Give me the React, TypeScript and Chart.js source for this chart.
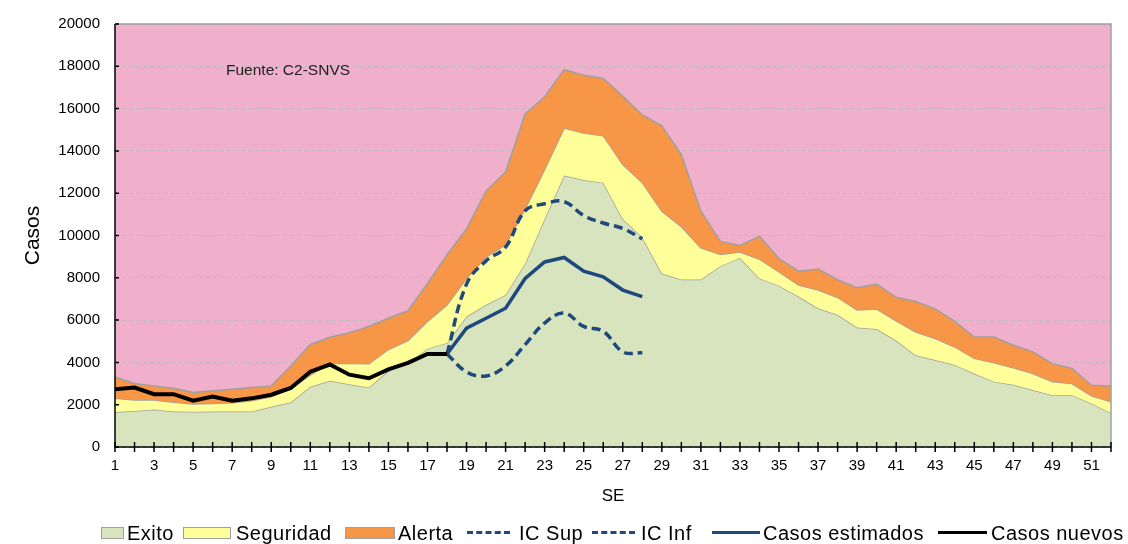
import React, { useEffect, useRef } from 'react';
import { Chart, registerables } from 'chart.js';

Chart.register(...registerables);

const weeks = ['1','2','3','4','5','6','7','8','9','10','11','12','13','14','15','16','17','18','19','20','21','22','23','24','25','26','27','28','29','30','31','32','33','34','35','36','37','38','39','40','41','42','43','44','45','46','47','48','49','50','51','52'];

// cumulative upper limits of the zones
const exito = [1650,1700,1770,1680,1670,1680,1680,1680,1900,2110,2850,3130,2970,2810,3600,3950,4650,4920,6170,6720,7190,8670,10780,12840,12620,12500,10780,9920,8200,7920,7920,8550,8940,7970,7630,7110,6560,6250,5650,5580,5030,4340,4110,3880,3470,3090,2940,2690,2450,2450,2060,1610];
const seguridad = [2310,2220,2220,2110,2030,2060,2090,2190,2380,2750,3400,3950,3950,3940,4610,5030,5940,6720,7970,8980,9560,11250,13130,15080,14840,14720,13360,12500,11150,10420,9420,9100,9220,8880,8280,7660,7420,7070,6480,6520,5970,5440,5130,4730,4190,3980,3750,3470,3080,3000,2420,2140];
const alerta = [3310,3000,2890,2780,2580,2660,2730,2810,2890,3830,4850,5190,5400,5700,6090,6440,7730,9090,10310,12110,13000,15750,16560,17840,17580,17420,16590,15700,15190,13830,11150,9720,9530,9970,8910,8310,8410,7910,7530,7700,7080,6880,6530,5940,5200,5200,4810,4500,3940,3720,2920,2890];

const casosNuevos = [2730,2810,2500,2500,2190,2390,2190,2300,2470,2790,3560,3900,3420,3250,3670,3980,4400,4400];
const casosEstimados = [null,null,null,null,null,null,null,null,null,null,null,null,null,null,null,null,null,4400,5620,6090,6560,7970,8750,8960,8310,8050,7420,7110];
const icSup = [null,null,null,null,null,null,null,null,null,null,null,null,null,null,null,null,null,4400,7700,8800,9450,11170,11500,11600,10940,10590,10330,9840];
const icInf = [null,null,null,null,null,null,null,null,null,null,null,null,null,null,null,null,null,4400,3550,3360,3830,4840,5860,6330,5700,5470,4500,4450];

const yTicks = [0,2000,4000,6000,8000,10000,12000,14000,16000,18000,20000];

const FONT = "'Liberation Sans', Arial, sans-serif";
const PINK = '#F0B0CB';
const GREEN = '#D7E4BD';
const YELLOW = '#FFFF99';
const ORANGE = '#F79646';
const NAVY = '#1F497D';
const EDGE = '#A0A0A0';

const framePlugin = {
  id: 'frame',
  beforeDraw(chart: any) {
    const { ctx, chartArea: a } = chart;
    ctx.save();
    ctx.fillStyle = PINK;
    ctx.fillRect(a.left, a.top, a.right - a.left, a.bottom - a.top);
    ctx.restore();
  },
  afterDatasetsDraw(chart: any) {
    const { ctx, chartArea: a, scales } = chart;
    const x = scales.x;
    const y = scales.y;
    ctx.save();
    ctx.strokeStyle = EDGE;
    ctx.lineWidth = 1.5;
    ctx.beginPath();
    ctx.moveTo(a.left, a.top);
    ctx.lineTo(a.right, a.top);
    ctx.lineTo(a.right, a.bottom);
    ctx.stroke();
    ctx.strokeStyle = '#000';
    ctx.lineWidth = 1.5;
    ctx.beginPath();
    ctx.moveTo(a.left, a.top);
    ctx.lineTo(a.left, a.bottom);
    ctx.lineTo(a.right, a.bottom);
    ctx.stroke();
    ctx.beginPath();
    weeks.forEach((_, i) => {
      const px = x.getPixelForValue(i);
      ctx.moveTo(px, a.bottom - 5);
      ctx.lineTo(px, a.bottom + 5);
    });
    yTicks.forEach((v) => {
      const py = y.getPixelForValue(v);
      ctx.moveTo(a.left, py);
      ctx.lineTo(a.left + 4, py);
    });
    ctx.stroke();
    ctx.restore();
  },
};

function App() {
  const ref = useRef<HTMLCanvasElement | null>(null);
  useEffect(() => {
    if (!ref.current) return;
    const area = (label: string, data: number[], color: string, fill: any, order: number) => ({
      label, data, backgroundColor: color, borderColor: EDGE, borderWidth: 1.5,
      fill, pointRadius: 0, tension: 0, order,
    });
    const chart = new Chart(ref.current, {
      type: 'line',
      data: {
        labels: weeks,
        datasets: [
          area('Exito', exito, GREEN, 'origin', 10),
          area('Seguridad', seguridad, YELLOW, 0, 9),
          area('Alerta', alerta, ORANGE, 1, 8),
          { label: 'IC Sup', data: icSup, borderColor: NAVY, borderWidth: 3.5, borderDash: [9, 5], fill: false, pointRadius: 0, tension: 0.4, order: 3 },
          { label: 'IC Inf', data: icInf, borderColor: NAVY, borderWidth: 3.5, borderDash: [9, 5], fill: false, pointRadius: 0, tension: 0.4, order: 2 },
          { label: 'Casos estimados', data: casosEstimados, borderColor: NAVY, borderWidth: 3.5, fill: false, pointRadius: 0, tension: 0, order: 1 },
          { label: 'Casos nuevos', data: casosNuevos, borderColor: '#000', borderWidth: 4, fill: false, pointRadius: 0, tension: 0, order: 0 },
        ] as any,
      },
      options: {
        animation: false,
        responsive: true,
        maintainAspectRatio: false,
        layout: { padding: { left: 0, top: 20, right: 17, bottom: 0 } },
        plugins: { legend: { display: false }, tooltip: { enabled: false } },
        scales: {
          x: {
            type: 'category',
            offset: false,
            grid: { display: false, drawTicks: false },
            border: { display: false },
            ticks: {
              autoSkip: false, maxRotation: 0, minRotation: 0, padding: 10,
              color: '#000', font: { family: FONT, size: 15 },
              callback: (_v: any, i: number) => (i % 2 === 0 ? weeks[i] : ''),
            },
            title: { display: true, text: 'SE', color: '#000', font: { family: FONT, size: 17 }, padding: { top: 0, bottom: 37 } },
            afterFit: (s: any) => { s.height = 97; },
          },
          y: {
            min: 0, max: 20000,
            grid: { color: '#BDBDBD', lineWidth: 1, drawTicks: false },
            border: { display: false, dash: [4, 3] },
            ticks: { stepSize: 2000, padding: 15, color: '#000', font: { family: FONT, size: 15 }, callback: (v: any) => String(v) },
            title: { display: true, text: 'Casos', color: '#000', font: { family: FONT, size: 21 }, padding: { top: 21, bottom: 0 } },
            afterFit: (s: any) => { s.width = 115; },
          },
        },
      } as any,
      plugins: [framePlugin],
    });
    return () => chart.destroy();
  }, []);

  const legendText: React.CSSProperties = { position: 'absolute', top: 522, fontFamily: FONT, fontSize: 20, letterSpacing: 0.5, color: '#000', whiteSpace: 'nowrap', lineHeight: '22px' };
  const box = (left: number, width: number, color: string): React.CSSProperties => ({ position: 'absolute', left, top: 527, width, height: 12, background: color, border: `1.5px solid ${EDGE}`, boxSizing: 'border-box' });
  const line = (left: number, width: number, color: string, dashed: boolean): React.CSSProperties => ({ position: 'absolute', left, top: 531, width, height: 0, borderTop: `3.5px ${dashed ? 'dashed' : 'solid'} ${color}` });

  return (
    <div style={{ position: 'fixed', left: 0, top: 0, width: 1128, height: 544, background: '#fff', overflow: 'hidden' }}>
      <canvas ref={ref} />
      <span style={{ position: 'absolute', left: 226, top: 61, fontFamily: FONT, fontSize: 15.5, color: '#222' }}>Fuente: C2-SNVS</span>
      <div style={box(101, 23, GREEN)} />
      <span style={{ ...legendText, left: 127 }}>Exito</span>
      <div style={box(183, 48, YELLOW)} />
      <span style={{ ...legendText, left: 236 }}>Seguridad</span>
      <div style={box(345, 50, ORANGE)} />
      <span style={{ ...legendText, left: 398 }}>Alerta</span>
      <div style={line(467, 43, NAVY, true)} />
      <span style={{ ...legendText, left: 519 }}>IC Sup</span>
      <div style={line(592, 43, NAVY, true)} />
      <span style={{ ...legendText, left: 641 }}>IC Inf</span>
      <div style={line(712, 48, NAVY, false)} />
      <span style={{ ...legendText, left: 763 }}>Casos estimados</span>
      <div style={line(938, 49, '#000', false)} />
      <span style={{ ...legendText, left: 991 }}>Casos nuevos</span>
    </div>
  );
}

export default App;
